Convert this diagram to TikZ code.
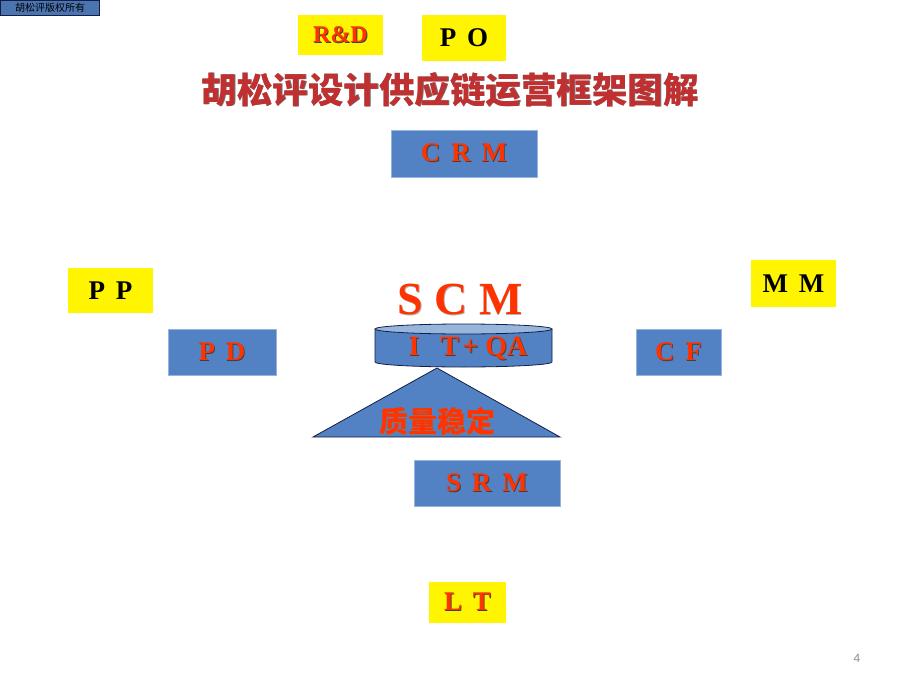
\documentclass[tikz,border=0pt]{standalone}
\usepackage{fontspec}
\setmainfont{Liberation Serif}
\newfontfamily\cjk{Noto Sans CJK SC}
\newfontfamily\arialf{Liberation Sans}
\definecolor{pptblue}{RGB}{82,130,196}
\definecolor{pptyellow}{RGB}{255,245,0}
\definecolor{pptred}{RGB}{255,51,0}
\definecolor{titlered}{RGB}{192,48,48}
\definecolor{cyltop}{RGB}{150,182,222}
\definecolor{navy}{RGB}{20,30,70}
\newcommand\shd[2][black!75]{\rlap{\kern0.8pt\raisebox{-0.8pt}{\textcolor{#1}{#2}}}#2}
\newcommand\lsp{\hspace{0.4em}}
\newcommand\fsz[1]{\fontsize{#1}{#1}\selectfont}
\tikzset{
  ybox/.style={fill=pptyellow, inner sep=0pt, font=\fsz{27}\bfseries},
  bbox/.style={fill=pptblue, draw=pptblue!60!white, line width=0.6pt, inner sep=0pt, font=\fsz{27}\bfseries, text=pptred},
  shape outline/.style={draw=navy, line width=0.8pt}
}
\begin{document}
\begin{tikzpicture}[x=1pt,y=-1pt]
\useasboundingbox (0,0) rectangle (920,690);
% copyright tag
\node[fill=pptblue!90!black, draw=navy, line width=0.8pt, inner sep=0pt, minimum width=99, minimum height=15, font=\cjk\fsz{10}] (tag) at (50,8) {胡松评版权所有};
% top boxes
\node[ybox, minimum width=85, minimum height=40, text=pptred, font=\fsz{24}\bfseries] (rd) at (340.5,35) {\shd{R\&D}};
\node[ybox, minimum width=84, minimum height=46] (po) at (464,38) {P\lsp O};
% title
\node[font=\cjk\bfseries\fsz{35.5}, text=titlered] (title) at (450,90) {\shd[black!55]{胡松评设计供应链运营框架图解}};
% CRM
\node[bbox, minimum width=146, minimum height=47] (crm) at (464,153.5) {\shd{C\lsp R\lsp M}};
% side boxes
\node[ybox, minimum width=85, minimum height=45] (pp) at (110.5,290.5) {P\lsp P};
\node[bbox, minimum width=108, minimum height=46] (pd) at (222,352) {\shd{P\lsp D}};
\node[ybox, minimum width=85, minimum height=47] (mm) at (793.5,283.5) {M\lsp M};
\node[bbox, minimum width=85, minimum height=46] (cf) at (678.5,352) {\shd{C\lsp F}};
% SCM title
\node[font=\fsz{46}\bfseries, text=pptred] (scm) at (460,300) {\shd[black!30]{S C M}};
% triangle
\coordinate (apex) at (437,368);
\coordinate (bl) at (313,437);
\coordinate (br) at (560,437);
\draw[fill=pptblue, shape outline] (apex) -- (bl) -- (br) -- cycle;
\node[font=\cjk\bfseries\fsz{29}, text=pptred] (qs) at (437,422) {\shd[black!50]{质量稳定}};
% cylinder
\coordinate (cl) at (375,329);
\coordinate (cr) at (552,329);
\fill[pptblue] (cl) -- (375,362) arc[start angle=180, end angle=0, x radius=88.5, y radius=5] -- (cr) -- cycle;
\draw[shape outline] (cl) -- (375,362) arc[start angle=180, end angle=0, x radius=88.5, y radius=5] -- (cr);
\draw[shape outline, fill=cyltop] (463.5,329) ellipse[x radius=88.5, y radius=5];
\node[font=\fsz{28}\bfseries, text=pptred] (itqa) at (468,349) {\shd{I\hspace{0.75em}T\hspace{0.12em}+\hspace{0.25em}QA}};
% bottom boxes
\node[bbox, minimum width=146, minimum height=46] (srm) at (487,483) {\shd{S\lsp R\lsp M}};
\node[ybox, minimum width=77, minimum height=41, text=pptred] (lt) at (467.5,602.5) {\shd{L\lsp T}};
% page number
\node[font=\arialf\fsz{12}, text=black!45] (pg) at (857,658) {4};
\end{tikzpicture}
\end{document}
